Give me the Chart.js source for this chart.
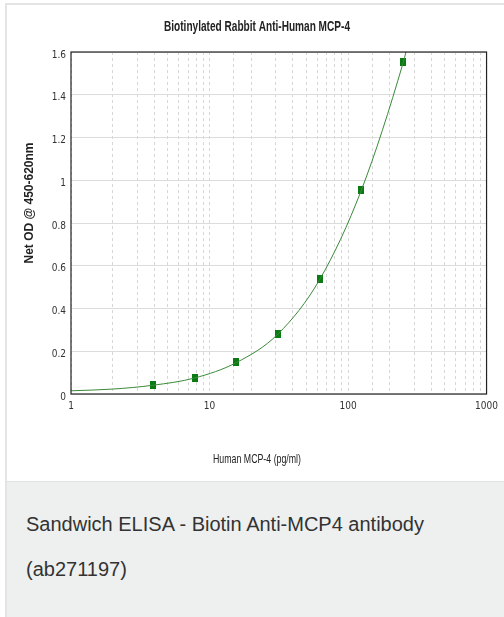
<!DOCTYPE html>
<html>
<head>
<meta charset="utf-8">
<script src="https://cdn.jsdelivr.net/npm/chart.js@4"></script>
<style>
  html, body { margin: 0; padding: 0; background: #fff; }
  body { width: 504px; height: 617px; position: relative; overflow: hidden; font-family: "Liberation Sans", Arial, sans-serif; }
  #card { position: absolute; left: 5px; top: 3px; width: 497px; height: 476px; border-left: 2px solid #e4e4e4; border-top: 2px solid #e4e4e4; background: #fff; }
  #card canvas { position: absolute; left: 0; top: 0; }
  #caption { position: absolute; left: 5px; top: 481px; width: 478px; height: 136px; border-left: 2px solid #e4e4e4; border-top: 1px solid #e2e4e4; background: #eef0f0; color: #333; font-size: 20px; line-height: 45px; padding: 20px 0 0 19px; box-sizing: content-box; }
</style>
</head>
<body>
<div id="card"><canvas id="elisaChart" width="497" height="476"></canvas></div>
<div id="caption">Sandwich ELISA - Biotin Anti-MCP4 antibody<br>(ab271197)</div>
<script>
// Standard curve data (pg/ml vs net OD)
const concentrations = [3.906, 7.8125, 15.625, 31.25, 62.5, 125, 250];
const netOD = [0.042, 0.076, 0.148, 0.282, 0.537, 0.954, 1.552];

// Fitted curve
const curveX = [1, 2, 3.906, 7.8125, 15.625, 31.25, 62.5, 125, 250, 262];
const curveY = [0.015, 0.023, 0.041, 0.075, 0.147, 0.281, 0.536, 0.955, 1.55, 1.6];

const xTickLabels = [1, 10, 100, 1000];
const yMax = 1.6;
const yStep = 0.2;

const chartTitle = 'Biotinylated Rabbit Anti-Human MCP-4';
const xTitle = 'Human MCP-4 (pg/ml)';
const yTitle = 'Net OD @ 450-620nm';

const sans = '"Liberation Sans", Arial, sans-serif';
const narrow = '"Liberation Sans Narrow", "DejaVu Sans Condensed", Arial, sans-serif';

// Small upright green block used as marker
function makeMarker() {
    const c = document.createElement('canvas');
    c.width = 6;
    c.height = 8;
    const g = c.getContext('2d');
    g.fillStyle = '#0a7a12';
    g.fillRect(0, 0, 6, 8);
    return c;
}

// draw text squeezed to a given width (the original uses a narrow face)
function squeezedText(ctx, text, x, y, width, rotate) {
    ctx.save();
    ctx.translate(x, y);
    if (rotate) ctx.rotate(-Math.PI / 2);
    const w = ctx.measureText(text).width;
    ctx.scale(Math.min(1, width / w), 1);
    ctx.fillText(text, 0, 0);
    ctx.restore();
}

// Frame and titles
const decorations = {
    id: 'decorations',
    afterDraw(chart) {
        const ctx = chart.ctx;
        const a = chart.chartArea;
        ctx.save();
        ctx.strokeStyle = '#222';
        ctx.lineWidth = 1.2;
        ctx.strokeRect(a.left, a.top, a.right - a.left, a.bottom - a.top);

        ctx.fillStyle = '#222';
        ctx.textAlign = 'center';
        ctx.textBaseline = 'alphabetic';
        ctx.font = 'bold 15px ' + sans;
        squeezedText(ctx, chartTitle, 250, 26, 186, false);

        ctx.font = '13px ' + sans;
        squeezedText(ctx, xTitle, 250, 458, 88, false);

        ctx.font = 'bold 12px ' + sans;
        squeezedText(ctx, yTitle, 26, 198, 133, true);
        ctx.restore();
    }
};

new Chart(document.getElementById('elisaChart'), {
    type: 'line',
    data: {
        datasets: [{
            label: 'Fit',
            data: curveX.map((x, i) => ({ x: x, y: curveY[i] })),
            borderColor: '#3a8a3a',
            borderWidth: 1,
            pointRadius: 0,
            cubicInterpolationMode: 'monotone',
            fill: false
        }, {
            label: 'Standards',
            data: concentrations.map((x, i) => ({ x: x, y: netOD[i] })),
            showLine: false,
            pointStyle: makeMarker(),
            pointRadius: 4
        }]
    },
    options: {
        responsive: false,
        animation: false,
        devicePixelRatio: 1,
        layout: { padding: { top: 47, right: 11, left: 0, bottom: 0 } },
        plugins: {
            legend: { display: false },
            title: { display: false },
            tooltip: { enabled: false }
        },
        scales: {
            x: {
                type: 'logarithmic',
                min: 1,
                max: 1000,
                afterFit: s => { s.height = 87; },
                border: { display: false, dash: [3, 3] },
                grid: { color: '#d6d6d6', lineWidth: 1, drawTicks: false },
                ticks: {
                    autoSkip: false,
                    maxRotation: 0,
                    padding: 6,
                    color: '#333',
                    font: { size: 10, family: narrow },
                    callback: v => xTickLabels.includes(v) ? String(v) : ''
                }
            },
            y: {
                min: 0,
                max: yMax,
                afterFit: s => { s.width = 64; },
                border: { display: false },
                grid: { color: '#dcdcdc', lineWidth: 1, drawTicks: false },
                ticks: {
                    stepSize: yStep,
                    padding: 5,
                    labelOffset: 3,
                    color: '#333',
                    font: { size: 10, family: narrow },
                    callback: v => String(Math.round(v * 10) / 10)
                }
            }
        }
    },
    plugins: [decorations]
});
</script>
</body>
</html>
